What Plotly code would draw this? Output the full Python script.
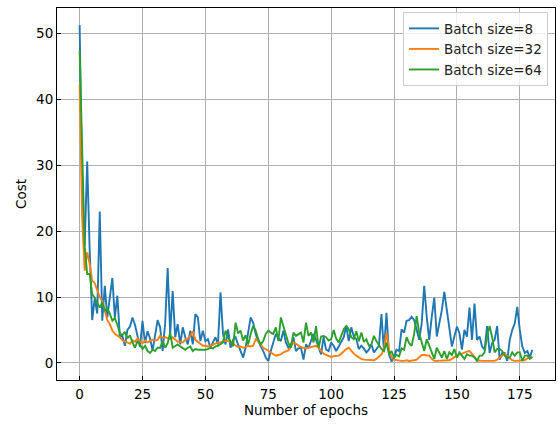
import plotly.graph_objects as go

epochs = list(range(181))

cost_bs8 = [
    51.3, 26.0, 17.8, 30.6, 17.0, 6.5, 9.8, 7.5, 23.0, 6.4,
    11.7, 6.9, 9.9, 12.9, 6.9, 10.2, 4.0, 4.1, 2.6, 5.0,
    5.5, 6.9, 5.8, 3.8, 2.4, 6.4, 3.0, 4.8, 3.7, 1.9,
    4.0, 6.5, 5.4, 1.8, 6.0, 14.4, 4.4, 10.9, 3.9, 5.9,
    2.8, 5.4, 3.9, 2.8, 4.9, 2.8, 7.4, 6.9, 3.3, 4.9,
    3.3, 3.6, 2.3, 3.1, 3.9, 2.8, 10.7, 4.4, 2.8, 5.1,
    2.3, 3.5, 3.9, 2.8, 1.8, 0.8, 2.3, 4.9, 6.9, 6.1,
    4.4, 3.3, 2.6, 1.8, 0.8, 0.3, 1.8, 3.3, 4.4, 3.8,
    3.3, 4.9, 3.1, 2.3, 2.8, 3.9, 1.8, 2.2, 2.3, 0.5,
    2.8, 2.3, 3.3, 4.4, 3.5, 2.3, 1.3, 3.9, 2.0, 1.8,
    3.1, 2.6, 1.8, 2.5, 3.1, 3.9, 5.6, 3.3, 5.4, 4.0,
    3.6, 2.1, 2.6, 2.2, 1.6, 2.0, 2.8, 1.6, 2.1, 2.6,
    7.4, 1.8, 7.6, 1.3, 0.2, 0.8, 2.0, 1.8, 5.1, 4.6,
    6.4, 6.5, 7.0, 6.5, 5.0, 3.5, 6.0, 11.7, 7.0, 3.5,
    7.0, 9.9, 4.0, 6.0, 8.0, 10.8, 8.0, 5.0, 2.5, 4.0,
    5.5, 4.5, 2.0, 5.0, 4.0, 8.4, 3.5, 9.0, 3.5, 4.0,
    2.5, 2.0, 5.6, 1.5, 3.0, 3.5, 5.6, 0.5, 1.5, 1.5,
    0.3, 3.5, 5.0, 6.0, 8.5, 5.0, 2.5, 1.5, 1.8, 0.8,
    2.0,
]

cost_bs32 = [
    42.3, 22.0, 14.0, 16.8, 15.0, 12.5, 12.1, 11.1, 10.0, 9.4,
    7.9, 6.5, 5.9, 4.9, 4.4, 4.2, 3.9, 3.4, 3.3, 3.1,
    2.9, 3.4, 3.2, 3.7, 3.3, 3.0, 3.4, 3.1, 3.3, 3.5,
    3.4, 3.5, 4.1, 3.8, 3.9, 3.8, 3.6, 3.9, 3.6, 3.2,
    3.2, 3.1, 3.5, 3.7, 4.1, 4.8, 3.5, 3.2, 2.8, 2.6,
    2.6, 2.5, 2.6, 2.8, 3.0, 3.1, 3.1, 3.2, 3.4, 3.3,
    3.2, 2.9, 2.6, 2.4, 2.5, 2.3, 2.4, 2.6, 2.5, 2.6,
    3.6, 3.3, 2.8, 2.3, 2.1, 1.9, 1.6, 1.3, 1.1, 1.2,
    1.3, 1.6, 1.8, 1.9, 2.5, 3.1, 2.9, 2.6, 2.4, 2.3,
    2.2, 2.3, 2.4, 2.5, 2.6, 2.3, 1.8, 1.4, 1.2, 1.0,
    0.9, 1.0, 1.0, 1.1, 1.4, 1.8, 2.1, 2.3, 1.8, 1.4,
    1.1, 0.8, 0.6, 0.5, 0.5, 0.4, 0.4, 0.4, 0.6, 0.9,
    1.3, 2.1, 4.6, 2.0, 0.9, 0.5, 0.4, 0.3, 0.3, 0.3,
    0.4, 0.3, 0.3, 0.4, 0.5, 0.8, 1.2, 1.2, 1.2, 1.1,
    0.6, 0.3, 0.3, 0.3, 0.3, 0.3, 0.3, 0.4, 0.6, 0.9,
    1.0, 1.3, 1.4, 1.6, 1.7, 1.8, 1.4, 0.9, 0.4, 0.3,
    0.3, 0.3, 0.3, 0.3, 0.3, 0.3, 0.5, 0.8, 1.1, 1.4,
    1.0, 0.7, 0.4, 0.3, 0.3, 0.3, 0.3, 0.4, 0.7, 0.8,
    0.9,
]

cost_bs64 = [
    47.5, 32.0, 17.7, 13.5, 13.5, 10.4, 9.9, 9.1, 8.4, 9.2,
    7.9, 8.3, 7.5, 6.4, 6.8, 5.8, 4.5, 4.2, 4.7, 3.7,
    4.2, 3.1, 2.3, 3.3, 2.8, 2.1, 2.6, 1.8, 1.5, 2.0,
    1.8, 2.3, 2.3, 3.3, 2.3, 3.0, 4.6, 2.3, 2.6, 2.8,
    2.5, 2.2, 2.0, 2.3, 2.5, 1.8, 2.1, 2.0, 2.0, 1.9,
    2.0, 2.1, 2.3, 2.2, 2.5, 2.6, 2.8, 3.1, 4.9, 3.8,
    3.3, 2.5, 6.1, 4.5, 4.9, 3.4, 4.2, 2.8, 4.4, 5.6,
    4.9, 3.6, 2.8, 3.3, 4.4, 4.9, 4.6, 4.4, 5.4, 3.3,
    6.9, 5.6, 4.4, 3.0, 2.3, 4.6, 4.1, 4.4, 4.6, 3.1,
    6.1, 4.1, 4.6, 3.1, 5.6, 2.3, 4.0, 4.1, 3.9, 3.4,
    3.6, 5.0, 3.7, 3.1, 4.1, 5.1, 5.6, 5.1, 3.9, 3.6,
    4.8, 3.3, 4.6, 3.2, 3.6, 2.6, 2.8, 4.1, 3.3, 2.6,
    2.1, 1.8, 3.1, 1.3, 1.8, 0.8, 1.2, 1.0, 2.2, 2.0,
    3.9, 3.0, 2.6, 4.4, 7.1, 4.5, 3.1, 1.8, 3.6, 2.5,
    1.6, 0.6, 2.3, 1.5, 0.8, 1.8, 0.6, 1.6, 1.2, 2.1,
    0.8, 1.6, 1.0, 0.6, 1.3, 1.1, 1.1, 0.8, 0.3, 1.1,
    1.1, 1.6, 4.1, 5.6, 3.9, 1.6, 2.1, 2.1, 1.8, 1.1,
    0.8, 0.8, 1.6, 1.1, 1.6, 1.6, 0.3, 1.1, 1.1, 0.6,
    0.9,
]

series_names = ["Batch size=8", "Batch size=32", "Batch size=64"]
series_values = [cost_bs8, cost_bs32, cost_bs64]
series_colors = ["#1f77b4", "#ff7f0e", "#2ca02c"]

x_ticks = [0, 25, 50, 75, 100, 125, 150, 175]
y_ticks = [0, 10, 20, 30, 40, 50]

FS = 13.5

fig = go.Figure()
for name, vals, col in zip(series_names, series_values, series_colors):
    fig.add_trace(go.Scatter(
        x=epochs[:len(vals)], y=vals, mode="lines", name=name,
        line=dict(color=col, width=1.9),
    ))

axis_common = dict(
    showline=True, linecolor="black", linewidth=1, mirror=True,
    ticks="inside", ticklen=4, tickwidth=1, tickcolor="black",
    showgrid=True, gridcolor="#b0b0b0", gridwidth=1,
    zeroline=False,
    tickfont=dict(family="DejaVu Sans", size=FS, color="black"),
)

fig.update_layout(
    width=558, height=424,
    margin=dict(l=57, r=3, t=8, b=44),
    paper_bgcolor="white", plot_bgcolor="white",
    font=dict(family="DejaVu Sans", size=FS, color="black"),
    showlegend=True,
    legend=dict(
        x=0.986, y=0.989, xanchor="right", yanchor="top",
        bgcolor="rgba(255,255,255,0.8)", bordercolor="#cccccc", borderwidth=1,
        font=dict(family="DejaVu Sans", size=FS, color="#222222"),
        itemwidth=30, tracegroupgap=0,
    ),
    xaxis=dict(
        range=[-9, 189], tickvals=x_ticks, ticklabelstandoff=2,
        title=dict(text="Number of epochs", standoff=4,
                   font=dict(family="DejaVu Sans", size=FS)),
        **axis_common,
    ),
    yaxis=dict(
        range=[-2.6, 53.9], tickvals=y_ticks,
        title=dict(text="Cost", standoff=6,
                   font=dict(family="DejaVu Sans", size=FS)),
        **axis_common,
    ),
)

fig.write_html("out.html")
